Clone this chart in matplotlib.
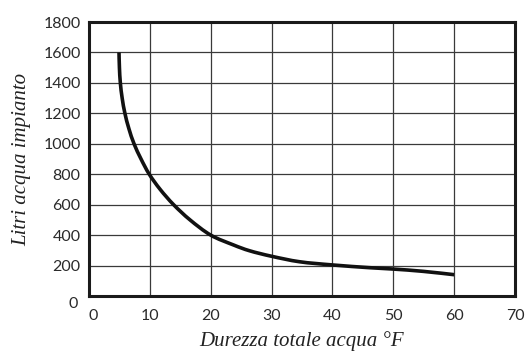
import matplotlib.pyplot as plt
import matplotlib.transforms as mtransforms
from matplotlib.path import Path
from matplotlib.patches import PathPatch

# punti
durezza = [4.93, 5.0, 5.15, 5.45, 5.9, 6.55, 7.4, 8.55, 9.9, 11.7, 13.9, 16.6, 20,
           23.7, 26.4, 30, 34.6, 40, 46.1, 50, 54.9, 60]
litri = [1600, 1500, 1400, 1300, 1200, 1100, 1000, 900, 800, 700, 600, 500, 400,
         336, 297, 261, 225, 204, 186, 177, 162, 140]

xticks = [0, 10, 20, 30, 40, 50, 60, 70]
yticks = [0, 200, 400, 600, 800, 1000, 1200, 1400, 1600, 1800]

fig = plt.figure(figsize=(5.25, 3.54), dpi=100)
ax = fig.add_axes([89 / 525, 1 - 296 / 354, 426 / 525, 274 / 354])

# linea morbida che passa per i punti (Catmull-Rom -> Bezier)
pts = list(zip(durezza, litri))
verts = [pts[0]]
codes = [Path.MOVETO]
for i in range(len(pts) - 1):
    p0 = pts[i - 1] if i > 0 else pts[i]
    p1, p2 = pts[i], pts[i + 1]
    p3 = pts[i + 2] if i + 2 < len(pts) else pts[i + 1]
    c1 = (p1[0] + (p2[0] - p0[0]) / 6, p1[1] + (p2[1] - p0[1]) / 6)
    c2 = (p2[0] - (p3[0] - p1[0]) / 6, p2[1] - (p3[1] - p1[1]) / 6)
    verts += [c1, c2, p2]
    codes += [Path.CURVE4] * 3
ax.add_patch(PathPatch(Path(verts, codes), fill=False, edgecolor='#111111', lw=2.6,
                       capstyle='butt', zorder=3))

ax.set_xlim(0, 70)
ax.set_ylim(0, 1800)
ax.set_xticks(xticks)
ax.set_yticks(yticks)
ax.grid(True, color='#3a3a3a', lw=0.9)
ax.set_axisbelow(True)
for s in ax.spines.values():
    s.set_linewidth(2.2)
    s.set_color('#1a1a1a')

ax.tick_params(length=0, labelsize=11.5, colors='#2a2a2a')
ax.tick_params(axis='x', pad=9)
ax.tick_params(axis='y', pad=6)
for lab in ax.get_xticklabels() + ax.get_yticklabels():
    lab.set_family('Lato')

# gli zeri sono spostati verso l'angolo
off_x = mtransforms.ScaledTranslation(4 / 100, 0, fig.dpi_scale_trans)
off_y = mtransforms.ScaledTranslation(-3 / 100, -6 / 100, fig.dpi_scale_trans)
ax.get_xticklabels()[0].set_transform(ax.get_xticklabels()[0].get_transform() + off_x)
ax.get_yticklabels()[0].set_transform(ax.get_yticklabels()[0].get_transform() + off_y)

ax.set_xlabel('Durezza totale acqua °F', family='Liberation Serif', style='italic',
              fontsize=15, color='#222222', va='baseline')
ax.xaxis.set_label_coords(0.5, (296 - 346) / 274)
ax.set_ylabel('Litri acqua impianto', family='Liberation Serif', style='italic',
              fontsize=15, color='#222222', va='center')
ax.yaxis.set_label_coords((22 - 89) / 426, 0.5)

fig.savefig('out.png', dpi=100)
